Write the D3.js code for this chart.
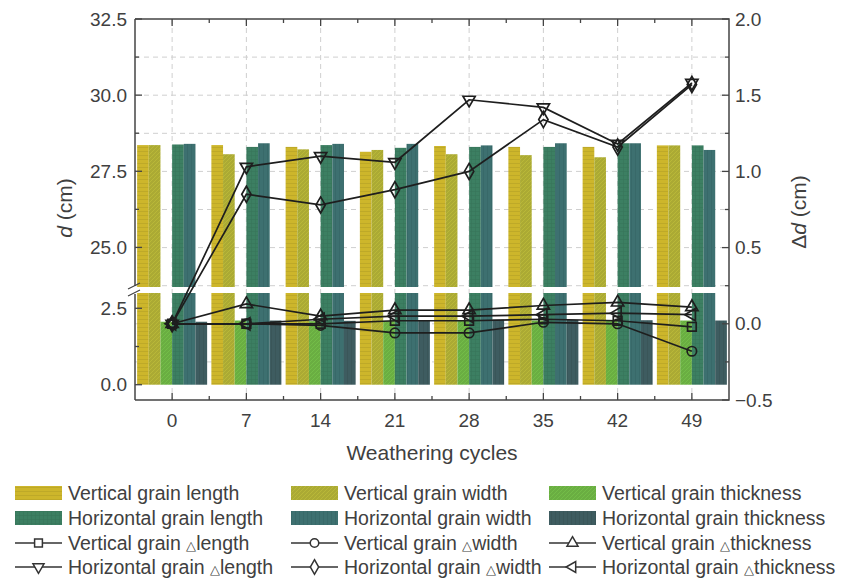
<!DOCTYPE html>
<html>
<head>
<meta charset="utf-8">
<script src="https://cdn.jsdelivr.net/npm/d3@7"></script>
<style>
  html, body { margin: 0; padding: 0; background: #fff; }
  svg { display: block; font-family: "Liberation Sans", Arial, sans-serif; }
  .tick-label { font-size: 19px; fill: #404040; }
  .axis-title { font-size: 21px; fill: #404040; }
  .legend-label { font-size: 19.5px; fill: #404040; }
</style>
</head>
<body>
<div id="chart"></div>
<script>
const cycles = [0, 7, 14, 21, 28, 35, 42, 49];

// d (cm), left axis
const vLength = [28.36, 28.36, 28.3, 28.14, 28.33, 28.3, 28.3, 28.35];
const vWidth = [28.36, 28.06, 28.22, 28.2, 28.06, 28.03, 27.96, 28.35];
const vThick = [2.06, 2.1, 2.08, 2.09, 2.1, 2.1, 2.11, 2.1];
const hLength = [28.38, 28.3, 28.36, 28.27, 28.3, 28.3, 28.42, 28.35];
const hWidth = [28.4, 28.42, 28.4, 28.4, 28.35, 28.42, 28.42, 28.2];
const hThick = [2.06, 2.1, 2.09, 2.1, 2.13, 2.12, 2.11, 2.1];

// Δd (cm), right axis
const dVLength = [0, 0, 0, 0.02, 0.02, 0.03, 0.02, -0.02];
const dVWidth = [0, 0, -0.01, -0.06, -0.06, 0.01, 0.0, -0.18];
const dVThick = [0, 0.13, 0.05, 0.09, 0.09, 0.12, 0.14, 0.11];
const dHLength = [0, 1.03, 1.1, 1.06, 1.47, 1.42, 1.18, 1.58];
const dHWidth = [0, 0.85, 0.78, 0.88, 1.0, 1.34, 1.16, 1.57];
const dHThick = [0, 0.0, 0.03, 0.05, 0.05, 0.06, 0.07, 0.06];

const leftTicksUpper = [25.0, 27.5, 30.0, 32.5];
const leftTicksLower = [0.0, 2.5];
const rightTicks = [-0.5, 0.0, 0.5, 1.0, 1.5, 2.0];

const barSeries = [
  { name: "Vertical grain length", values: vLength, color: "#cdb62b", pattern: "hlines" },
  { name: "Vertical grain width", values: vWidth, color: "#abaa34", pattern: "diag" },
  { name: "Vertical grain thickness", values: vThick, color: "#6aae42", pattern: "diag" },
  { name: "Horizontal grain length", values: hLength, color: "#3c7f62", pattern: "grid" },
  { name: "Horizontal grain width", values: hWidth, color: "#3d7070", pattern: "vlines" },
  { name: "Horizontal grain thickness", values: hThick, color: "#3e5c60", pattern: "vlines" },
];

const lineSeries = [
  { name: "Vertical grain ", delta: "length", values: dVLength, symbol: "square" },
  { name: "Vertical grain ", delta: "width", values: dVWidth, symbol: "circle" },
  { name: "Vertical grain ", delta: "thickness", values: dVThick, symbol: "up" },
  { name: "Horizontal grain ", delta: "length", values: dHLength, symbol: "down" },
  { name: "Horizontal grain ", delta: "width", values: dHWidth, symbol: "diamond" },
  { name: "Horizontal grain ", delta: "thickness", values: dHThick, symbol: "left" },
];

const width = 848;
const height = 581;
const margin = { top: 19, right: 119, bottom: 181, left: 135 };
const plotBottom = height - margin.bottom;
const plotRight = width - margin.right;
const breakLow = 3.0;
const breakHigh = 23.7;

const svg = d3.select("#chart").append("svg")
  .attr("width", width)
  .attr("height", height);

const x = d3.scaleLinear().domain([-3.5, 52.5]).range([margin.left, plotRight]);
const yRight = d3.scaleLinear().domain([-0.5, 2.0]).range([plotBottom, margin.top]);
const yLow = d3.scaleLinear().domain([-0.5, breakLow]).range([plotBottom, 293]);
const yHigh = d3.scaleLinear().domain([breakHigh, 32.5]).range([287, margin.top]);

// patterns
const defs = svg.append("defs");
barSeries.forEach((s, i) => {
  const p = defs.append("pattern")
    .attr("id", `pat${i}`)
    .attr("patternUnits", "userSpaceOnUse")
    .attr("width", 4).attr("height", 4);
  p.append("rect").attr("width", 4).attr("height", 4).attr("fill", s.color);
  const dark = d3.color(s.color).darker(0.3);
  const light = d3.color(s.color).brighter(0.25);
  if (s.pattern === "hlines") {
    p.append("path").attr("d", "M0,3.5H4").attr("stroke", dark).attr("stroke-width", 0.7);
  } else if (s.pattern === "diag") {
    p.append("path").attr("d", "M0,4L4,0M-1,1L1,-1M3,5L5,3").attr("stroke", light).attr("stroke-width", 0.9);
  } else if (s.pattern === "grid") {
    p.append("path").attr("d", "M0,3.5H4M3.5,0V4").attr("stroke", dark).attr("stroke-width", 0.5);
  } else {
    p.append("path").attr("d", "M3.5,0V4").attr("stroke", dark).attr("stroke-width", 0.7);
  }
});

// grid
const grid = svg.append("g").attr("stroke", "#cfcfcf").attr("stroke-dasharray", "5,4").attr("stroke-width", 1);
grid.selectAll("line.h")
  .data(d3.range(-0.25, 2.0, 0.25))
  .join("line")
  .attr("x1", margin.left).attr("x2", plotRight)
  .attr("y1", (d) => yRight(d)).attr("y2", (d) => yRight(d));
grid.selectAll("line.v")
  .data(cycles)
  .join("line")
  .attr("class", "v")
  .attr("x1", (d) => x(d)).attr("x2", (d) => x(d))
  .attr("y1", margin.top).attr("y2", plotBottom);

// bars
const barW = x(1.1) - x(0);
const bars = svg.append("g");
barSeries.forEach((s, si) => {
  const rows = cycles.map((c, i) => ({ c, v: s.values[i] }));
  const bx = (d) => x(d.c - 3.3 + si * 1.1);
  bars.append("g").selectAll("rect")
    .data(rows)
    .join("rect")
    .attr("x", bx)
    .attr("width", barW)
    .attr("y", (d) => yLow(Math.min(d.v, breakLow)))
    .attr("height", (d) => yLow(0) - yLow(Math.min(d.v, breakLow)))
    .attr("fill", `url(#pat${si})`);
  bars.append("g").selectAll("rect")
    .data(rows.filter((d) => d.v > breakHigh))
    .join("rect")
    .attr("x", bx)
    .attr("width", barW)
    .attr("y", (d) => yHigh(d.v))
    .attr("height", (d) => yHigh(breakHigh) - yHigh(d.v))
    .attr("fill", `url(#pat${si})`);
});

// marker shapes
function markerPath(kind, size) {
  const r = size;
  if (kind === "square") return d3.symbol(d3.symbolSquare, r * r * 0.75)();
  if (kind === "circle") return d3.symbol(d3.symbolCircle, r * r * 0.7)();
  if (kind === "diamond") return d3.symbol(d3.symbolDiamond, r * r * 0.75)();
  return d3.symbol(d3.symbolTriangle, r * r * 0.65)();
}
const markerRotate = { up: 0, down: 180, left: -90 };

// lines
const lineGen = d3.line().x((d) => x(d.c)).y((d) => yRight(d.v));
const linesG = svg.append("g");
lineSeries.forEach((s) => {
  const rows = cycles.map((c, i) => ({ c, v: s.values[i] }));
  linesG.append("path")
    .datum(rows)
    .attr("d", lineGen)
    .attr("fill", "none")
    .attr("stroke", "#1e1e1e")
    .attr("stroke-width", 1.7);
  linesG.append("g").selectAll("path")
    .data(rows)
    .join("path")
    .attr("d", markerPath(s.symbol, 10))
    .attr("transform", (d) => `translate(${x(d.c)},${yRight(d.v)}) rotate(${markerRotate[s.symbol] || 0})`)
    .attr("fill", "none")
    .attr("stroke", "#1e1e1e")
    .attr("stroke-width", 1.7);
});

// frame and axes
const axisColor = "#444";
const frame = svg.append("g").attr("stroke", axisColor).attr("stroke-width", 1.5).attr("fill", "none");
frame.append("path").attr("d", `M${margin.left},${margin.top}H${plotRight}V${plotBottom}H${margin.left}`);
frame.append("line").attr("x1", margin.left).attr("x2", margin.left).attr("y1", margin.top).attr("y2", 286);
frame.append("line").attr("x1", margin.left).attr("x2", margin.left).attr("y1", 294).attr("y2", plotBottom);
frame.append("path").attr("d", `M${margin.left - 7},${289}L${margin.left + 5},${283}M${margin.left - 7},${296}L${margin.left + 5},${290}`)
  .attr("stroke-width", 1.2);

const ticks = svg.append("g").attr("stroke", axisColor).attr("stroke-width", 1.3);
const leftMajor = leftTicksUpper.map((v) => yHigh(v)).concat(leftTicksLower.map((v) => yLow(v)));
const leftMinor = [26.25, 28.75, 31.25].map((v) => yHigh(v)).concat([1.25].map((v) => yLow(v)));
ticks.selectAll("line.lm").data(leftMajor).join("line").attr("class", "lm")
  .attr("x1", margin.left).attr("x2", margin.left + 7).attr("y1", (d) => d).attr("y2", (d) => d);
ticks.selectAll("line.ln").data(leftMinor).join("line").attr("class", "ln")
  .attr("x1", margin.left).attr("x2", margin.left + 4).attr("y1", (d) => d).attr("y2", (d) => d);
ticks.selectAll("line.rm").data(rightTicks).join("line").attr("class", "rm")
  .attr("x1", plotRight).attr("x2", plotRight - 7).attr("y1", (d) => yRight(d)).attr("y2", (d) => yRight(d));
ticks.selectAll("line.rn").data(d3.range(-0.25, 2.0, 0.5)).join("line").attr("class", "rn")
  .attr("x1", plotRight).attr("x2", plotRight - 4).attr("y1", (d) => yRight(d)).attr("y2", (d) => yRight(d));
[plotBottom, margin.top].forEach((yy, k) => {
  const dir = k === 0 ? -1 : 1;
  ticks.append("g").selectAll("line").data(cycles).join("line")
    .attr("x1", (d) => x(d)).attr("x2", (d) => x(d)).attr("y1", yy).attr("y2", yy + dir * 7);
  ticks.append("g").selectAll("line").data(cycles.slice(0, -1).map((c) => c + 3.5)).join("line")
    .attr("x1", (d) => x(d)).attr("x2", (d) => x(d)).attr("y1", yy).attr("y2", yy + dir * 4);
});

// tick labels
const labels = svg.append("g");
labels.selectAll("text.lu")
  .data(leftTicksUpper.map((v) => [v, yHigh(v)]).concat(leftTicksLower.map((v) => [v, yLow(v)])))
  .join("text")
  .attr("class", "tick-label")
  .attr("x", margin.left - 8)
  .attr("y", (d) => d[1])
  .attr("dy", "0.35em")
  .attr("text-anchor", "end")
  .text((d) => d[0].toFixed(1));
labels.selectAll("text.r")
  .data(rightTicks)
  .join("text")
  .attr("class", "tick-label")
  .attr("x", plotRight + 6)
  .attr("y", (d) => yRight(d))
  .attr("dy", "0.35em")
  .text((d) => (d < 0 ? "\u22120.5" : d.toFixed(1)));
labels.selectAll("text.b")
  .data(cycles)
  .join("text")
  .attr("class", "tick-label")
  .attr("x", (d) => x(d))
  .attr("y", plotBottom + 27)
  .attr("text-anchor", "middle")
  .text((d) => d);

// axis titles
const lt = svg.append("text").attr("class", "axis-title")
  .attr("transform", `translate(72,208) rotate(-90)`).attr("text-anchor", "middle");
lt.append("tspan").attr("font-style", "italic").text("d");
lt.append("tspan").text(" (cm)");
const rt = svg.append("text").attr("class", "axis-title")
  .attr("transform", `translate(806,212) rotate(-90)`).attr("text-anchor", "middle");
rt.append("tspan").text("\u0394");
rt.append("tspan").attr("font-style", "italic").text("d");
rt.append("tspan").text(" (cm)");
svg.append("text").attr("class", "axis-title")
  .attr("x", 432).attr("y", 460).attr("text-anchor", "middle")
  .text("Weathering cycles");

// legend
const colX = [15, 291, 549];
const rowY = [493, 518, 543, 567];
const legend = svg.append("g");
barSeries.forEach((s, i) => {
  const gx = colX[i % 3];
  const gy = rowY[Math.floor(i / 3)];
  legend.append("rect").attr("x", gx).attr("y", gy - 7).attr("width", 47).attr("height", 14)
    .attr("fill", `url(#pat${i})`);
  legend.append("text").attr("class", "legend-label").attr("x", gx + 53).attr("y", gy).attr("dy", "0.35em").text(s.name);
});
lineSeries.forEach((s, i) => {
  const gx = colX[i % 3];
  const gy = rowY[2 + Math.floor(i / 3)];
  legend.append("line").attr("x1", gx).attr("x2", gx + 47).attr("y1", gy).attr("y2", gy)
    .attr("stroke", "#333").attr("stroke-width", 1.5);
  legend.append("path").attr("d", markerPath(s.symbol, 9))
    .attr("transform", `translate(${gx + 23.5},${gy}) rotate(${markerRotate[s.symbol] || 0})`)
    .attr("fill", "#fff").attr("stroke", "#333").attr("stroke-width", 1.5);
  const t = legend.append("text").attr("class", "legend-label").attr("x", gx + 53).attr("y", gy).attr("dy", "0.35em");
  t.append("tspan").text(s.name);
  t.append("tspan").attr("font-size", "13px").text("\u25B3");
  t.append("tspan").text(s.delta);
});
</script>
</body>
</html>
